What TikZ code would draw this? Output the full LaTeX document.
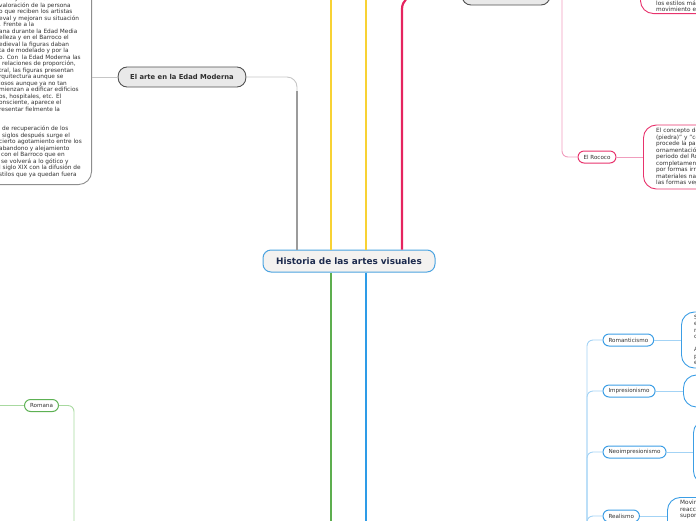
\documentclass[tikz,border=0pt]{standalone}
\usepackage{fontspec}
\setmainfont{DejaVu Sans}
\usetikzlibrary{positioning}

\definecolor{hubfill}{HTML}{F4F2F0}
\definecolor{hubline}{HTML}{4BA3E0}
\definecolor{hubtext}{HTML}{1D2B4E}
\definecolor{topicfill}{HTML}{E9E9E9}
\definecolor{topicline}{HTML}{505050}
\definecolor{topictext}{HTML}{2E2E2E}
\definecolor{boxgrey}{HTML}{8E8E8E}
\definecolor{greybranch}{HTML}{9B9B9B}
\definecolor{greythin}{HTML}{C6C6C6}
\definecolor{yellowbranch}{HTML}{F8D234}
\definecolor{greenbranch}{HTML}{5DAE4F}
\definecolor{greenleaf}{HTML}{5DB153}
\definecolor{greenthin}{HTML}{A8D9A0}
\definecolor{bluebranch}{HTML}{2E9CE7}
\definecolor{blueleaf}{HTML}{3C9EE5}
\definecolor{bluethin}{HTML}{A3D3F5}
\definecolor{redbranch}{HTML}{E5245F}
\definecolor{redleaf}{HTML}{E8336D}
\definecolor{pinkthin}{HTML}{F09DBD}
\definecolor{leaftext}{HTML}{333333}

\begin{document}
\begin{tikzpicture}
[
	x=1pt, y=-1pt,
	hub/.style={draw=hubline,fill=hubfill,line width=1pt,rounded corners=8pt,minimum width=172pt,minimum height=22pt,inner sep=0pt,text=hubtext,font=\fontsize{8.9}{10}\selectfont\bfseries},
	topic/.style={draw=topicline,fill=topicfill,line width=0.9pt,rounded corners=9pt,minimum height=20pt,inner xsep=12pt,inner ysep=0pt,text=topictext,font=\fontsize{6.8}{8}\selectfont\bfseries},
	leaf/.style={fill=white,line width=1pt,rounded corners=6pt,minimum height=12pt,inner xsep=5.5pt,inner ysep=0pt,text=leaftext,font=\fontsize{5.6}{6.5}\selectfont},
	textbox/.style={fill=white,line width=0.9pt,rounded corners=13pt},
	boxtext/.style={align=left,inner sep=0pt,text=leaftext,font=\fontsize{5.8}{6.5}\selectfont},
	branch/.style={line width=2.2pt},
	twig/.style={line width=0.9pt,rounded corners=6pt}
]

	\useasboundingbox (0,0) rectangle (696,520);
	\clip (0,0) rectangle (696,520);

	% central topic and the main topics
	\node[hub] at (349,261) (hist) {Historia de las artes visuales};
	\node[topic] at (182,77) (moderna) {El arte en la Edad Moderna};
	\node[topic,minimum width=88pt] at (506,-5) (arriba) {};

	% text boxes
	\node[textbox,draw=boxgrey,anchor=south east,minimum width=130pt,minimum height=230pt] at (92,185) (modernabox) {};
	\node[boxtext,anchor=west] at (-1,86.7) (modernatxt) {ismo y cambia su\\
valoración de la persona\\
o que reciben los artistas\\
eval y mejoran su situación\\
. Frente a la\\
ana durante la Edad Media\\
elleza y en el Barroco el\\
edieval la figuras daban\\
ta de modelado y por la\\
o. Con\ \ la Edad Moderna las\\
\hspace*{3pt}relaciones de proporción,\\
tral, las figuras presentan\\
rquitectura aunque se\\
iosos aunque ya no tan\\
mienzan a edificar edificios\\
os, hospitales, etc. El\\
onsciente, aparece el\\
resentar fielmente la\\
\mbox{}\\
\mbox{}\\
\hspace*{3pt}de recuperación de los\\
\hspace*{3pt}siglos después surge el\\
cierto agotamiento entre los\\
abandono y alejamiento\\
\hspace*{2pt}con el Barroco que en\\
\hspace*{2pt}se volverá a lo gótico y\\
l siglo XIX con la difusión de\\
stilos que ya quedan fuera};

	\node[textbox,draw=redleaf,anchor=south west,minimum width=120pt,minimum height=80pt] at (640,14) (barrocobox) {};
	\node[boxtext,right=16pt of barrocobox.south west,anchor=west,yshift=7.8pt] (barrocotxt) {los estilos más\\movimiento en};

	\node[textbox,draw=redleaf,anchor=west,minimum width=120pt,minimum height=64pt] at (643,157) (rococobox) {};
	\node[boxtext,right=13pt of rococobox.west] (rococotxt) {El concepto de rococó\\
(piedra)" y "coquille"\\
procede la palabra\\
ornamentación\\
periodo del Rococó\\
completamente\\
por formas irregulares\\
materiales naturales\\
las formas vegetales};

	\node[textbox,draw=blueleaf,anchor=west,minimum width=60pt,minimum height=56pt] at (681,340) (romanticbox) {};
	\node[boxtext,right=13pt of romanticbox.west] (romantictxt) {Surge\\en\\movimiento\\con\\\mbox{}\\Aporta\\pasión\\emoción};
	\node[textbox,draw=blueleaf,anchor=west,minimum width=60pt,minimum height=32pt] at (683,391) (impresbox) {};
	\node[textbox,draw=blueleaf,anchor=west,minimum width=60pt,minimum height=64pt] at (693,452) (neoimpbox) {};
	\node[textbox,draw=blueleaf,anchor=north west,minimum width=60pt,minimum height=38pt] at (667,497) (realismobox) {};
	\node[boxtext,anchor=west] at (680,509.5) (realismotxt) {Movimiento\\reacción\\supone};

	% subtopics
	\node[leaf,draw=redleaf] at (597,157) (rococo) {El Rococo};
	\node[leaf,draw=blueleaf,anchor=west] at (602.5,340) (romantic) {Romanticismo};
	\node[leaf,draw=blueleaf,anchor=west] at (602.5,391) (impres) {Impresionismo};
	\node[leaf,draw=blueleaf,anchor=west] at (602.5,452) (neoimp) {Neoimpresionismo};
	\node[leaf,draw=blueleaf,anchor=west] at (602.5,516) (realismo) {Realismo};
	\node[leaf,draw=greenleaf] at (41.5,405.5) (romana) {Romana};

	% ends of branches outside the frame
	\coordinate (codo) at (297,77);
	\coordinate (amarillo1) at (331,-20);
	\coordinate (amarillo2) at (366,-20);
	\coordinate (verde) at (331,540);
	\coordinate (azul) at (366,540);
	\coordinate (rojo) at (402,0);
	\coordinate (barroco) at (562,-40);
	\coordinate (azulraiz) at (587,540);
	\coordinate (romanahijo) at (-10,405.5);
	\coordinate (romanapadre) at (74,540);

	% main branches
	\draw[twig,greythin,rounded corners=10pt] (moderna.east) -- (codo) -- (hist.north -| codo);
	\draw[branch,greybranch] (hist.north -| codo) -- ([yshift=-14pt]codo);
	\draw[branch,yellowbranch] (hist.north -| amarillo1) -- (amarillo1);
	\draw[branch,yellowbranch] (hist.north -| amarillo2) -- (amarillo2);
	\draw[branch,greenbranch] (hist.south -| verde) -- (verde);
	\draw[branch,bluebranch] (hist.south -| azul) -- (azul);
	\draw[branch,redbranch,rounded corners=14pt] (hist.north -| rojo) |- (arriba.west);

	% thin links
	\draw[twig,greythin] (moderna.west -| modernabox.east) -- (moderna.west);
	\draw[twig,pinkthin] (barroco) |- (rococo.west);
	\draw[twig,pinkthin] (rococo.east) -- (rococobox.west);
	\draw[twig,bluethin] (azulraiz) |- (romantic.west);
	\draw[twig,bluethin] (azulraiz) |- (impres.west);
	\draw[twig,bluethin] (azulraiz) |- (neoimp.west);
	\draw[twig,bluethin] (azulraiz) |- (realismo.west);
	\draw[twig,bluethin] (romantic.east) -- (romanticbox.west);
	\draw[twig,bluethin] (impres.east) -- (impresbox.west);
	\draw[twig,bluethin] (neoimp.east) -- (neoimpbox.west);
	\draw[twig,bluethin] (realismo.east) -- (realismo.east -| realismobox.west);
	\draw[twig,greenthin] (romanahijo) -- (romana.west);
	\draw[twig,greenthin] (romana.east) -| (romanapadre);

\end{tikzpicture}
\end{document}
